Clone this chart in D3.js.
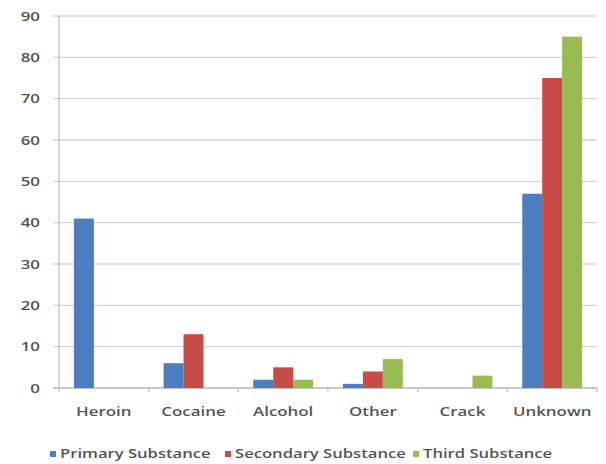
<!DOCTYPE html>
<html><head><meta charset="utf-8">
<script src="https://cdn.jsdelivr.net/npm/d3@7"></script>
<style>body{margin:0;background:#fff}svg{display:block}</style>
</head><body>
<svg id="c" width="606" height="464"></svg>
<script>
const categories = ["Heroin","Cocaine","Alcohol","Other","Crack","Unknown"];
const seriesNames = ["Primary Substance","Secondary Substance","Third Substance"];
const primary = [41,6,2,1,0,47];
const secondary = [0,13,5,4,0,75];
const third = [0,0,2,7,3,85];
const yTicks = [0,10,20,30,40,50,60,70,80,90];
const colors = ["#4a7ec0","#c64c47","#98bb52"];

const series = [primary, secondary, third];
const svg = d3.select("#c");
const m = {l:59, r:597, t:16, b:388};
const font = "'Open Sans', sans-serif";
const textCol = "#555555";
const sx = 1.3;

const x = d3.scaleBand().domain(categories).range([m.l, m.r]).paddingInner(0.333).paddingOuter(0.1665);
const xs = d3.scaleBand().domain(seriesNames).range([0, x.bandwidth()]);
const y = d3.scaleLinear().domain([0,90]).range([m.b, m.t]);

// grid
svg.append("g").selectAll("line").data(yTicks).join("line")
  .attr("x1", m.l-6).attr("x2", m.r).attr("y1", d=>y(d)).attr("y2", d=>y(d))
  .attr("stroke", d=> d===0 ? "#b5b5b5" : "#d4d4d4").attr("stroke-width", 1.3);
// y axis line
svg.append("line").attr("x1", m.l).attr("x2", m.l).attr("y1", m.t).attr("y2", m.b)
  .attr("stroke","#c4c4c4").attr("stroke-width",1.3);
// x ticks between groups
const step = (m.r-m.l)/categories.length;
svg.append("g").selectAll("line").data(d3.range(categories.length+1)).join("line")
  .attr("x1", i=>m.l+i*step).attr("x2", i=>m.l+i*step).attr("y1", m.b).attr("y2", m.b+4)
  .attr("stroke","#c4c4c4").attr("stroke-width",1.3);

// y labels
svg.append("g").selectAll("text").data(yTicks).join("text")
  .attr("transform", d=>`translate(40,${y(d)}) scale(${sx},1)`)
  .attr("dy","0.35em").attr("text-anchor","end")
  .attr("font-family", font).attr("font-size", 13).attr("font-weight", 600)
  .attr("fill", textCol).text(d=>d);

// bars
series.forEach((vals, si) => {
  svg.append("g").selectAll("rect").data(categories.map((c,i)=>({c, v: vals[i]}))).join("rect")
    .attr("x", d=> x(d.c) + xs(seriesNames[si]))
    .attr("width", xs.bandwidth())
    .attr("y", d=> y(d.v))
    .attr("height", d=> y(0)-y(d.v))
    .attr("fill", colors[si]);
});

// x labels
svg.append("g").selectAll("text").data(categories).join("text")
  .attr("transform", d=>`translate(${x(d)+x.bandwidth()/2},416) scale(${sx},1)`)
  .attr("text-anchor","middle")
  .attr("font-family", font).attr("font-size", 13).attr("font-weight", 600)
  .attr("fill", textCol).text(d=>d);

// legend
const legX = [50, 225, 413];
const lg = svg.append("g").selectAll("g").data(seriesNames).join("g")
  .attr("transform", (d,i)=>`translate(${legX[i]},454)`);
lg.append("rect").attr("x",0).attr("y",-3).attr("width",6).attr("height",6).attr("fill",(d,i)=>colors[i]);
lg.append("text").attr("transform",`translate(10,0) scale(${sx},1)`).attr("dy","0.35em")
  .attr("font-family",font).attr("font-size",12.8).attr("font-weight",600)
  .attr("fill",textCol).text(d=>d);
</script>
</body></html>
